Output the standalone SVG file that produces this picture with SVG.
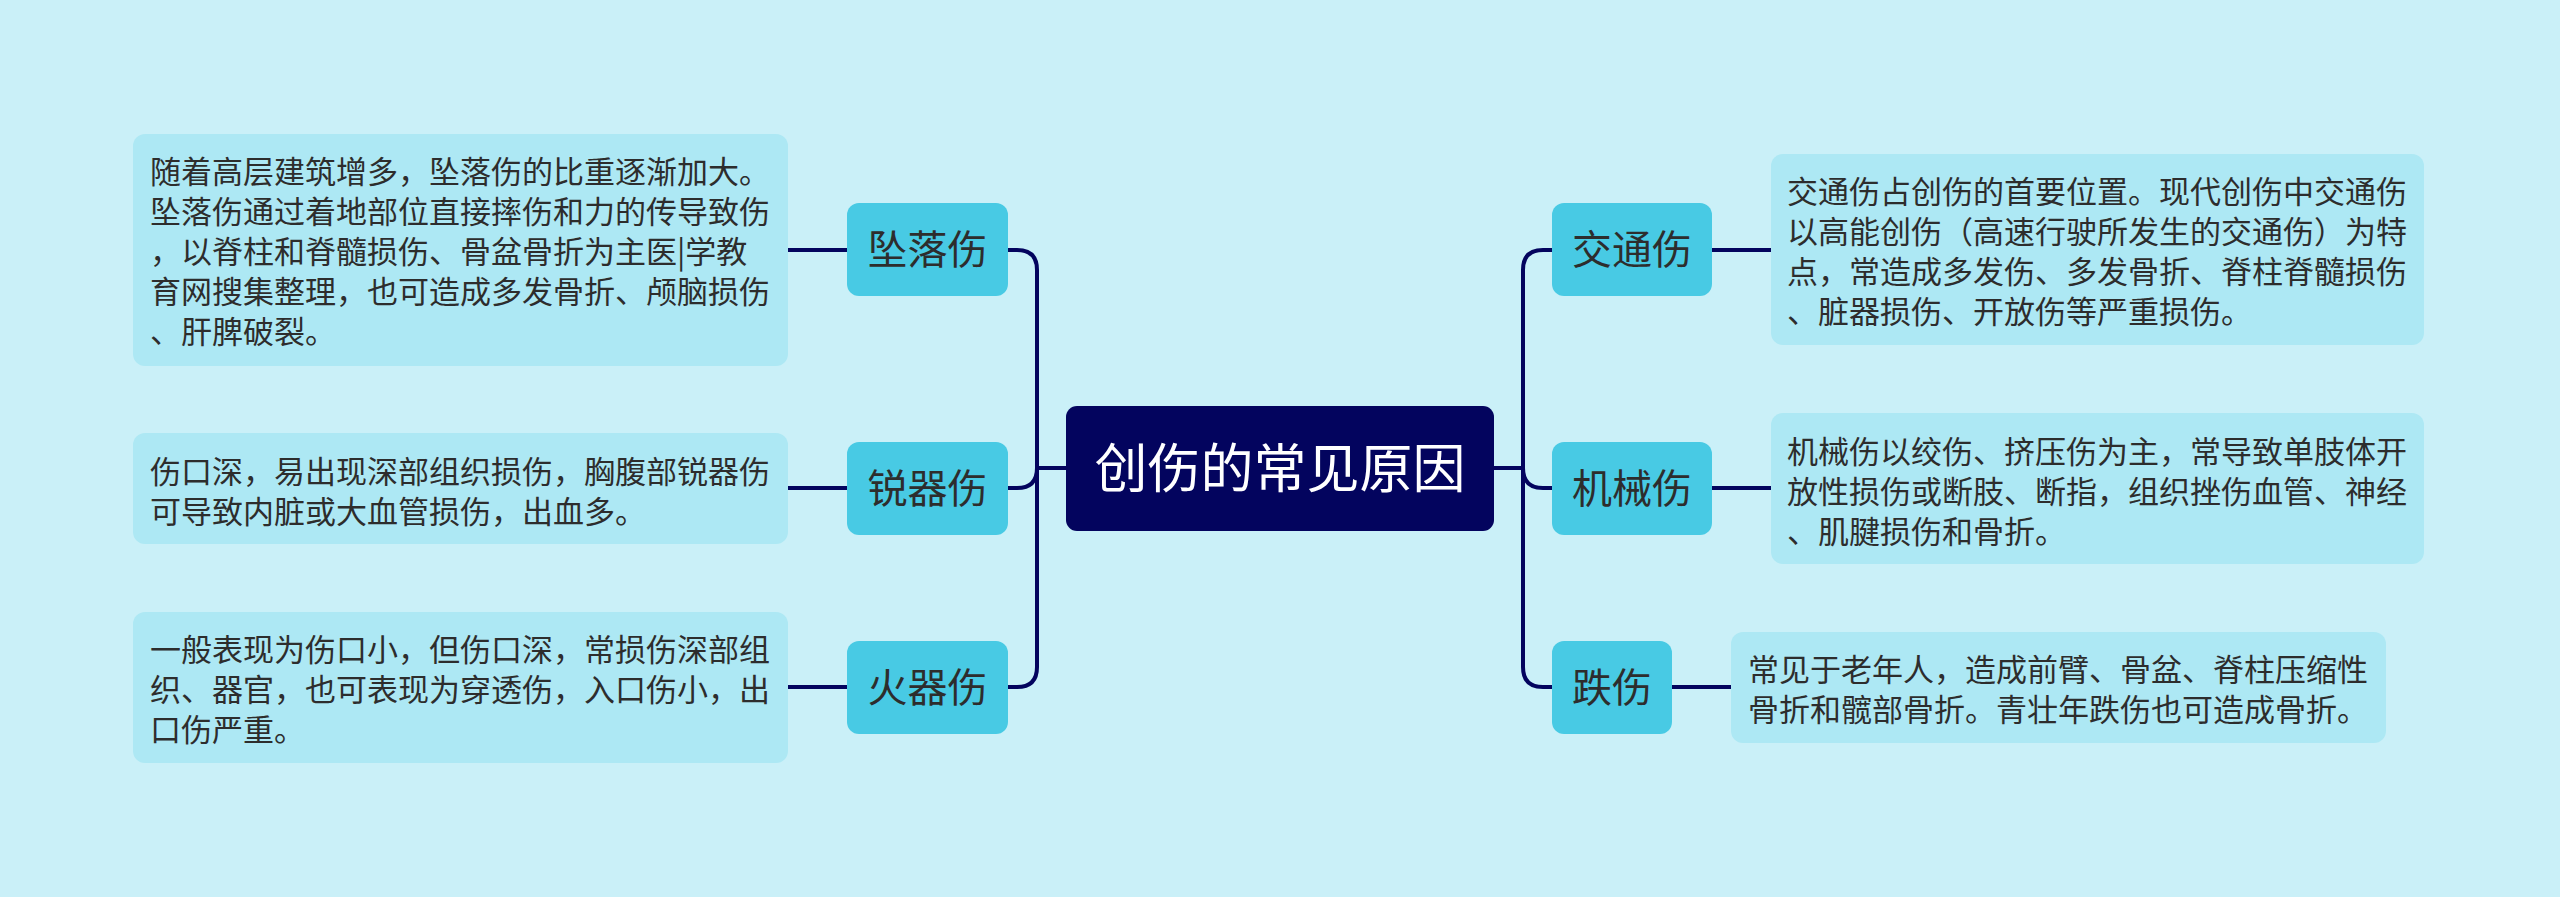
<svg xmlns="http://www.w3.org/2000/svg" width="2560" height="897" viewBox="0 0 2560 897">
<style>
.bg{fill:#caf0f8}
.desc{fill:#ade8f4}
.node{fill:#48cae4}
.root{fill:#03045e}
.line{fill:none;stroke:#03045e;stroke-width:4;stroke-linecap:butt}
text{font-family:"Noto Sans CJK SC","Noto Sans",sans-serif}
.dt{font-size:31px;fill:#2d2d2d}
.nt{font-size:40px;fill:#2d2d2d;text-anchor:middle}
.rt{font-size:53px;fill:#ffffff;text-anchor:middle}
</style>
<rect class="bg" x="0" y="0" width="2560" height="897"/>
<g id="connectors">
<path class="line" d="M1066 468 H1037"/>
<path class="line" d="M1037 468 V270 Q1037 250 1017 250 H1008"/>
<path class="line" d="M1037 468 Q1037 488 1017 488 H1008"/>
<path class="line" d="M1037 468 V667 Q1037 687 1017 687 H1008"/>
<path class="line" d="M1494 468 H1523"/>
<path class="line" d="M1523 468 V270 Q1523 250 1543 250 H1552"/>
<path class="line" d="M1523 468 Q1523 488 1543 488 H1552"/>
<path class="line" d="M1523 468 V667 Q1523 687 1543 687 H1552"/>
<path class="line" d="M788 250 H847"/>
<path class="line" d="M788 488 H847"/>
<path class="line" d="M788 687 H847"/>
<path class="line" d="M1712 250 H1771"/>
<path class="line" d="M1712 488 H1771"/>
<path class="line" d="M1672 687 H1731"/>
</g>
<g id="root">
<rect class="root" x="1066" y="406" width="428" height="125" rx="11"/>
<text class="rt" x="1280" y="488">创伤的常见原因</text>
</g>
<g id="n-zhuiluo">
<rect class="node" x="847" y="203" width="161" height="93" rx="12"/>
<text class="nt" x="927.5" y="264">坠落伤</text>
</g>
<g id="n-ruiqi">
<rect class="node" x="847" y="442" width="161" height="93" rx="12"/>
<text class="nt" x="927.5" y="503">锐器伤</text>
</g>
<g id="n-huoqi">
<rect class="node" x="847" y="641" width="161" height="93" rx="12"/>
<text class="nt" x="927.5" y="702">火器伤</text>
</g>
<g id="n-jiaotong">
<rect class="node" x="1552" y="203" width="160" height="93" rx="12"/>
<text class="nt" x="1632" y="264">交通伤</text>
</g>
<g id="n-jixie">
<rect class="node" x="1552" y="442" width="160" height="93" rx="12"/>
<text class="nt" x="1632" y="503">机械伤</text>
</g>
<g id="n-die">
<rect class="node" x="1552" y="641" width="120" height="93" rx="12"/>
<text class="nt" x="1612" y="702">跌伤</text>
</g>
<g id="d-zhuiluo">
<rect class="desc" x="133" y="134" width="655" height="232" rx="12"/>
<text class="dt" x="150" y="183">随着高层建筑增多，坠落伤的比重逐渐加大。</text>
<text class="dt" x="150" y="223">坠落伤通过着地部位直接摔伤和力的传导致伤</text>
<text class="dt" x="150" y="263">，以脊柱和脊髓损伤、骨盆骨折为主医|学教</text>
<text class="dt" x="150" y="303">育网搜集整理，也可造成多发骨折、颅脑损伤</text>
<text class="dt" x="150" y="343">、肝脾破裂。</text>
</g>
<g id="d-ruiqi">
<rect class="desc" x="133" y="433" width="655" height="111" rx="12"/>
<text class="dt" x="150" y="483">伤口深，易出现深部组织损伤，胸腹部锐器伤</text>
<text class="dt" x="150" y="523">可导致内脏或大血管损伤，出血多。</text>
</g>
<g id="d-huoqi">
<rect class="desc" x="133" y="612" width="655" height="151" rx="12"/>
<text class="dt" x="150" y="661">一般表现为伤口小，但伤口深，常损伤深部组</text>
<text class="dt" x="150" y="701">织、器官，也可表现为穿透伤，入口伤小，出</text>
<text class="dt" x="150" y="741">口伤严重。</text>
</g>
<g id="d-jiaotong">
<rect class="desc" x="1771" y="154" width="653" height="191" rx="12"/>
<text class="dt" x="1787" y="203">交通伤占创伤的首要位置。现代创伤中交通伤</text>
<text class="dt" x="1787" y="243">以高能创伤（高速行驶所发生的交通伤）为特</text>
<text class="dt" x="1787" y="283">点，常造成多发伤、多发骨折、脊柱脊髓损伤</text>
<text class="dt" x="1787" y="323">、脏器损伤、开放伤等严重损伤。</text>
</g>
<g id="d-jixie">
<rect class="desc" x="1771" y="413" width="653" height="151" rx="12"/>
<text class="dt" x="1787" y="463">机械伤以绞伤、挤压伤为主，常导致单肢体开</text>
<text class="dt" x="1787" y="503">放性损伤或断肢、断指，组织挫伤血管、神经</text>
<text class="dt" x="1787" y="543">、肌腱损伤和骨折。</text>
</g>
<g id="d-die">
<rect class="desc" x="1731" y="632" width="655" height="111" rx="12"/>
<text class="dt" x="1748" y="681">常见于老年人，造成前臂、骨盆、脊柱压缩性</text>
<text class="dt" x="1748" y="721">骨折和髋部骨折。青壮年跌伤也可造成骨折。</text>
</g>
</svg>
